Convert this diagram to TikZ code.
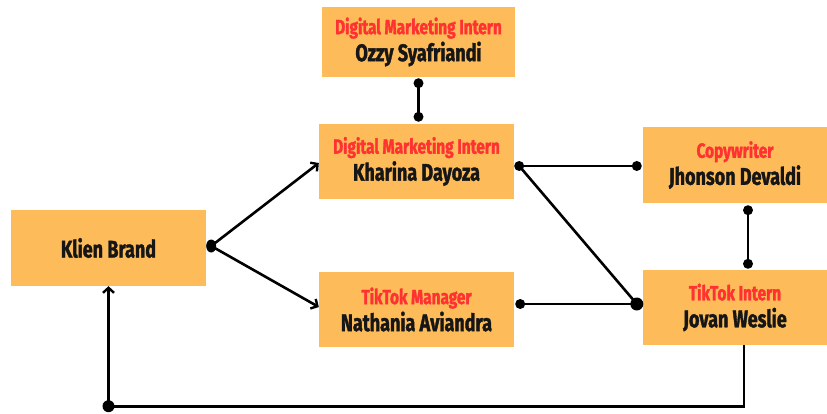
\documentclass[tikz,border=0pt]{standalone}
\usepackage{fontspec}
\setmainfont{Fira Sans}
\newfontfamily\condfont{Fira Sans}[FakeStretch=0.75,FakeBold=1.5]
\usetikzlibrary{arrows.meta,calc}
\definecolor{boxfill}{RGB}{253,188,89}
\definecolor{rolered}{RGB}{255,49,49}
\definecolor{nameblack}{RGB}{22,22,22}
\newcommand{\rolet}[1]{{\color{rolered}\fontsize{20.5}{27}\selectfont #1}}
\newcommand{\namet}[1]{{\color{nameblack}\fontsize{24}{27}\selectfont #1}}
\tikzset{
  orgbox/.style={fill=boxfill, draw=none, inner sep=0pt, align=center,
    font=\condfont\bfseries\fontsize{24}{27}\selectfont},
  link/.style={line width=2.6pt, draw=black},
  arrowlink/.style={link, -{Straight Barb[length=5pt,width=11pt,line width=2.4pt]}},
  dotmark/.style={fill=black}
}
\begin{document}
\begin{tikzpicture}[x=1pt,y=-1pt]
\useasboundingbox[fill=white] (0,0) rectangle (827,414);
\node[orgbox, minimum width=193pt, minimum height=70pt] (ozzy) at (418.5,42)
  {\rolet{Digital Marketing Intern}\\\namet{Ozzy Syafriandi}};
\node[orgbox, minimum width=195pt, minimum height=75pt] (kharina) at (416.5,161.5)
  {\rolet{Digital Marketing Intern}\\\namet{Kharina Dayoza}};
\node[orgbox, minimum width=195pt, minimum height=76pt] (klien) at (108.5,248)
  {\namet{Klien Brand}};
\node[orgbox, minimum width=195pt, minimum height=75pt] (nathania) at (416.5,309.5)
  {\rolet{TikTok Manager}\\\namet{Nathania Aviandra}};
\node[orgbox, minimum width=184pt, minimum height=76pt] (copy) at (735,165)
  {\rolet{Copywriter}\\\namet{Jhonson Devaldi}};
\node[orgbox, minimum width=184pt, minimum height=75pt] (jovan) at (735,307.5)
  {\rolet{TikTok Intern}\\\namet{Jovan Weslie}};

\coordinate (ozzyDot) at ($(ozzy.south)+(0,6)$);
\coordinate (kharTop) at ($(ozzy.south |- kharina.north)+(0,-7)$);
\coordinate (klienDot) at ($(klien.east)+(5,-2)$);
\coordinate (kharIn) at ($(kharina.west)+(0,1.5)$);
\coordinate (nathIn) at ($(nathania.west)+(0,-2.5)$);
\coordinate (kharDot) at ($(kharina.east)+(5,4.5)$);
\coordinate (copyDot) at ($(copy.west)+(-6,1)$);
\coordinate (nathDot) at ($(nathania.east)+(6,-5.5)$);
\coordinate (junc) at ($(jovan.west)+(-6,-3.5)$);
\coordinate (copyBot) at ($(copy.south)+(13,7)$);
\coordinate (jovTop) at ($(jovan.north)+(13,-6)$);
\coordinate (jovBot) at ($(jovan.south)+(9,0)$);
\coordinate (loopDot) at ($(klien.south)+(0,120)$);

\draw[link] (ozzyDot) -- (kharTop);
\draw[arrowlink] (klienDot) -- (kharIn);
\draw[arrowlink] (klienDot) -- (nathIn);
\draw[link] (kharDot) -- (copyDot);
\draw[link] (kharDot) -- (junc);
\draw[link] (nathDot) -- (junc);
\draw[link] (copyBot) -- (jovTop);
\draw[link] (jovBot) |- (loopDot);
\draw[arrowlink] (loopDot) -- (klien.south);

\fill[dotmark] (ozzyDot) circle (5pt);
\fill[dotmark] (kharTop) circle (5pt);
\fill[dotmark] (klienDot) ellipse (5pt and 6.5pt);
\fill[dotmark] (kharDot) circle (5pt);
\fill[dotmark] (copyDot) circle (5pt);
\fill[dotmark] (nathDot) circle (5pt);
\fill[dotmark] (junc) circle (6.5pt);
\fill[dotmark] (copyBot) circle (5pt);
\fill[dotmark] (jovTop) circle (5pt);
\fill[dotmark] (loopDot) circle (6pt);
\end{tikzpicture}
\end{document}
